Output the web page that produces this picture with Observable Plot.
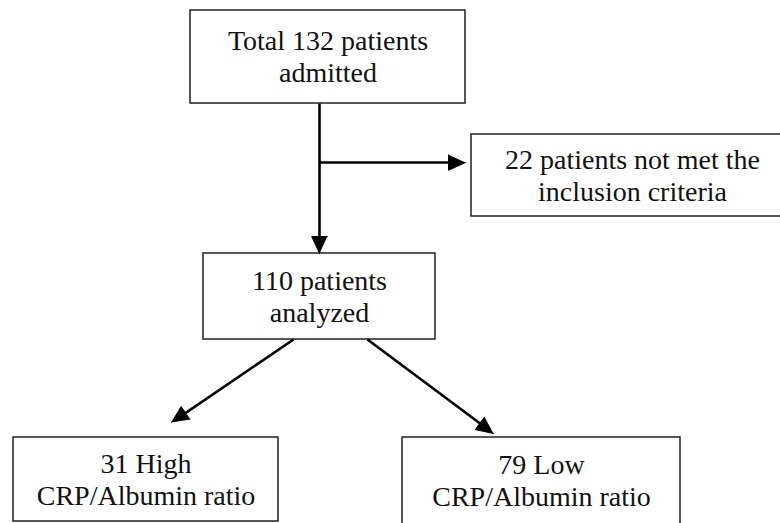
<!DOCTYPE html>
<html>
<head>
<meta charset="utf-8">
<script src="https://cdn.jsdelivr.net/npm/d3@7"></script>
<script src="https://cdn.jsdelivr.net/npm/@observablehq/plot@0.6"></script>
<style>
  html, body { margin: 0; padding: 0; background: #fff; overflow: hidden; }
  #chart { width: 780px; height: 523px; overflow: hidden; }
</style>
</head>
<body>
<div id="chart"></div>
<script>
// Flowchart stages and their counts
const stages = ["total", "excluded", "analyzed", "high", "low"];
const counts = [132, 22, 110, 31, 79];
const labels = [
  "Total 132 patients\nadmitted",
  "22 patients not met the\ninclusion criteria",
  "110 patients\nanalyzed",
  "31 High\nCRP/Albumin ratio",
  "79 Low\nCRP/Albumin ratio"
];

// Box layout (diagram coordinates)
const boxLeft   = [190, 471, 203, 13, 402];
const boxRight  = [465, 793, 435, 278, 680];
const boxTop    = [10, 134, 253, 437, 437];
const boxBottom = [103, 216, 339, 521, 540];

// Arrow connectors (diagram coordinates)
const arrowFrom = ["total", "total", "analyzed", "analyzed"];
const arrowTo   = ["analyzed", "excluded", "high", "low"];
const arrowX1 = [319, 319, 293, 367];
const arrowY1 = [103, 162, 339, 339];
const arrowX2 = [319, 465, 171, 493];
const arrowY2 = [253, 162, 422, 433];

const boxes = stages.map((id, i) => ({
  id, count: counts[i], label: labels[i],
  x1: boxLeft[i], x2: boxRight[i], y1: boxTop[i], y2: boxBottom[i]
}));
const arrows = arrowFrom.map((f, i) => ({
  id: f + "-" + arrowTo[i],
  x1: arrowX1[i], y1: arrowY1[i], x2: arrowX2[i], y2: arrowY2[i]
}));

const headLen = 17, headHalf = 7.8;
const heads = arrows.flatMap(a => {
  const dx = a.x2 - a.x1, dy = a.y2 - a.y1, L = Math.hypot(dx, dy);
  const ux = dx / L, uy = dy / L;
  const bx = a.x2 - ux * headLen, by = a.y2 - uy * headLen;
  return [
    {id: a.id, x: a.x2, y: a.y2},
    {id: a.id, x: bx - uy * headHalf, y: by + ux * headHalf},
    {id: a.id, x: bx + uy * headHalf, y: by - ux * headHalf}
  ];
});
const shafts = arrows.map(a => {
  const dx = a.x2 - a.x1, dy = a.y2 - a.y1, L = Math.hypot(dx, dy);
  return {...a, x2: a.x2 - dx / L * (headLen - 2), y2: a.y2 - dy / L * (headLen - 2)};
});

const chart = Plot.plot({
  width: 780,
  height: 523,
  margin: 0,
  x: {domain: [0, 780], range: [0, 780], axis: null},
  y: {domain: [0, 523], range: [0, 523], axis: null},
  style: {background: "#fff"},
  marks: [
    Plot.rect(boxes, {x1: "x1", x2: "x2", y1: "y1", y2: "y2", fill: "#fff", stroke: "#111", strokeWidth: 1.4}),
    Plot.link(shafts, {x1: "x1", y1: "y1", x2: "x2", y2: "y2", stroke: "#000", strokeWidth: 2.6}),
    Plot.line(heads, {x: "x", y: "y", z: "id", fill: "#000", stroke: "#000", strokeWidth: 1, strokeLinejoin: "miter"}),
    Plot.text(boxes, {
      x: d => (d.x1 + d.x2) / 2,
      y: d => d.id === "low" ? (d.y1 + 521) / 2 : (d.y1 + d.y2) / 2 - 1,
      text: "label",
      fontSize: 28,
      fontFamily: "Liberation Serif",
      lineHeight: 1.14,
      fill: "#111"
    })
  ]
});
document.getElementById("chart").append(chart);
</script>
</body>
</html>
